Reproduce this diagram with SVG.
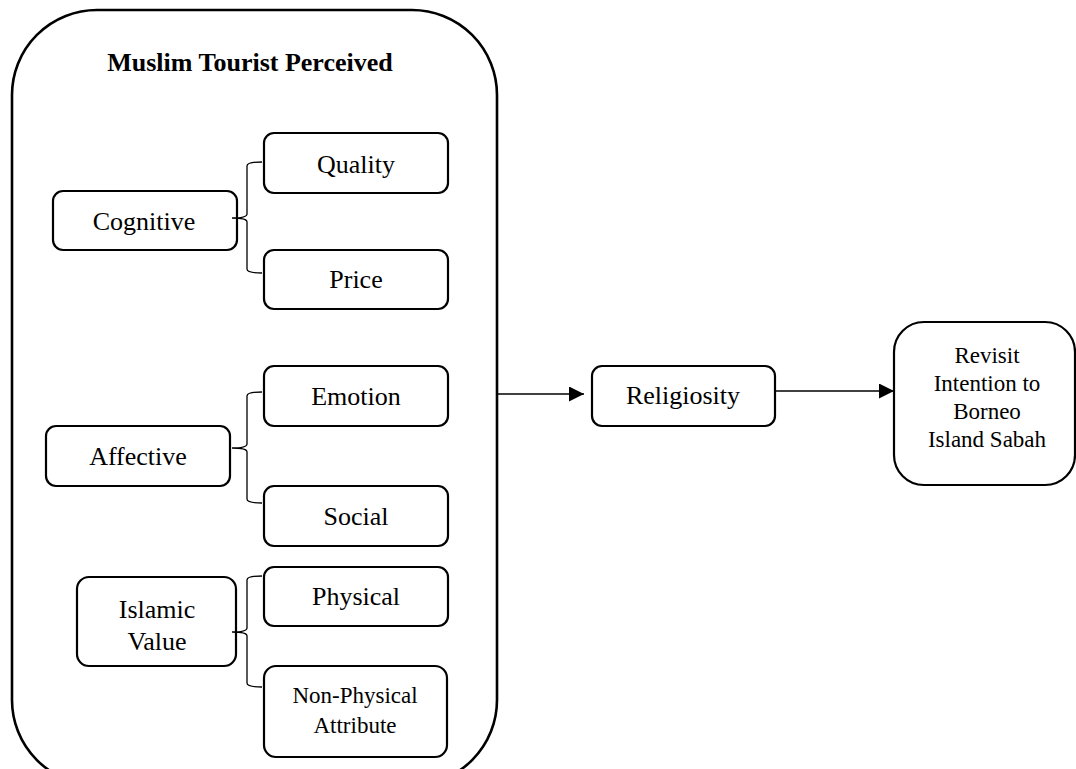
<svg xmlns="http://www.w3.org/2000/svg" width="1076" height="769" viewBox="0 0 1076 769">
<defs>
<style>
.box{fill:#fff;stroke:#000;stroke-width:2.2}
.t{font-family:"Liberation Serif","Times New Roman",serif;font-size:26px;text-anchor:middle;fill:#000}
.s{font-size:23px}
.br{fill:none;stroke:#000;stroke-width:1.3}
.ln{fill:none;stroke:#000;stroke-width:1.3}
</style>
<marker id="ah" viewBox="0 0 10 10" refX="10" refY="5" markerWidth="17" markerHeight="15" markerUnits="userSpaceOnUse" orient="auto">
<path d="M0,0 L10,5 L0,10 z" fill="#000"/>
</marker>
</defs>
<rect width="1076" height="769" fill="#fff"/>
<g id="outer">
<rect x="12" y="10" width="485" height="775" rx="85" ry="85" fill="none" stroke="#000" stroke-width="2.6"/>
<text class="t" x="250" y="71" font-weight="bold">Muslim Tourist Perceived</text>
</g>
<g id="cognitive"><rect class="box" x="53" y="191" width="184" height="59" rx="10"/><text class="t" x="144" y="230">Cognitive</text></g>
<g id="quality"><rect class="box" x="264" y="133" width="184" height="60" rx="10"/><text class="t" x="356" y="173">Quality</text></g>
<g id="price"><rect class="box" x="264" y="250" width="184" height="59" rx="10"/><text class="t" x="356" y="288">Price</text></g>
<g id="affective"><rect class="box" x="46" y="426" width="184" height="60" rx="10"/><text class="t" x="138" y="465">Affective</text></g>
<g id="emotion"><rect class="box" x="264" y="366" width="184" height="60" rx="10"/><text class="t" x="356" y="405">Emotion</text></g>
<g id="social"><rect class="box" x="264" y="486" width="184" height="60" rx="10"/><text class="t" x="356" y="525">Social</text></g>
<g id="islamic"><rect class="box" x="77" y="577" width="159" height="89" rx="12"/><text class="t" x="157" y="618">Islamic</text><text class="t" x="157" y="650">Value</text></g>
<g id="physical"><rect class="box" x="264" y="567" width="184" height="59" rx="10"/><text class="t" x="356" y="605">Physical</text></g>
<g id="nonphysical"><rect class="box" x="264" y="666" width="183" height="91" rx="12"/><text class="t s" x="355" y="703">Non-Physical</text><text class="t s" x="355" y="733">Attribute</text></g>
<g id="religiosity"><rect class="box" x="592" y="366" width="183" height="60" rx="10"/><text class="t" x="683" y="404">Religiosity</text></g>
<g id="revisit"><rect class="box" x="894" y="322" width="181" height="163" rx="30"/>
<text class="t s" x="987" y="363">Revisit</text><text class="t s" x="987" y="391">Intention to</text><text class="t s" x="987" y="419">Borneo</text><text class="t s" x="987" y="447">Island Sabah</text></g>
<g id="connectors">
<path class="br" d="M262,162 Q247,162 247,166 L247,214 Q247,218 232,218 Q247,218 247,222 L247,269 Q247,273 262,273"/>
<path class="br" d="M262,392 Q247,392 247,396 L247,444 Q247,448 232,448 Q247,448 247,452 L247,499 Q247,503 262,503"/>
<path class="br" d="M262,576 Q247,576 247,580 L247,628 Q247,632 232,632 Q247,632 247,636 L247,683 Q247,687 262,687"/>
<line class="ln" x1="497" y1="394" x2="584" y2="394" marker-end="url(#ah)"/>
<line class="ln" x1="775" y1="391" x2="894" y2="391" marker-end="url(#ah)"/>
</g>
</svg>
